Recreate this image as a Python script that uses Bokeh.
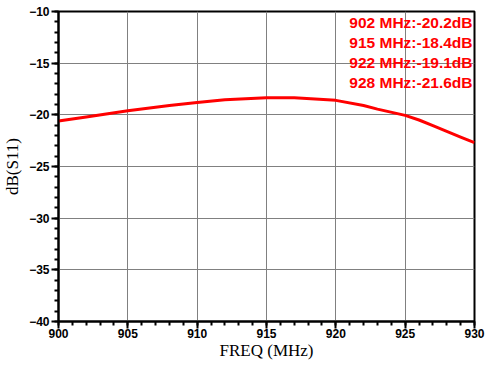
from bokeh.plotting import figure
from bokeh.embed import file_html
from bokeh.resources import INLINE
from bokeh.models import Label, SingleIntervalTicker, Range1d

freq = [900, 902, 905, 908, 910, 912, 915, 917, 920, 922, 923, 925, 926, 927, 928, 929, 930]
s11 = [-20.6, -20.2, -19.6, -19.1, -18.8, -18.55, -18.35, -18.35, -18.6, -19.1, -19.45,
       -20.05, -20.5, -21.05, -21.6, -22.15, -22.7]
marker_freq = [902, 915, 922, 928]
marker_val = [-20.2, -18.4, -19.1, -21.6]
x_tick_step = 5
y_tick_step = 5

p = figure(output_backend="svg", toolbar_location=None,
           width=487, height=371,
           x_range=Range1d(900, 930), y_range=Range1d(-40, -10),
           min_border_left=57, min_border_right=13, min_border_top=11, min_border_bottom=50)
p.background_fill_color = "white"
p.border_fill_color = "white"
p.outline_line_color = "black"
p.outline_line_width = 2

p.line(freq, s11, line_color="#ff0000", line_width=3)

for ax, step in ((p.xaxis[0], x_tick_step), (p.yaxis[0], y_tick_step)):
    ax.ticker = SingleIntervalTicker(interval=step, num_minor_ticks=5)
    ax.axis_line_color = "black"
    ax.axis_line_width = 2
    ax.major_tick_line_color = "black"
    ax.major_tick_line_width = 2
    ax.minor_tick_line_color = "black"
    ax.minor_tick_line_width = 2
    ax.major_tick_out = 7
    ax.major_tick_in = 0
    ax.minor_tick_out = 4
    ax.minor_tick_in = 0
    ax.major_label_text_font = "Liberation Sans"
    ax.major_label_text_font_style = "bold"
    ax.major_label_text_font_size = "12px"
    ax.major_label_text_color = "black"
    ax.axis_label_text_font = "Liberation Serif"
    ax.axis_label_text_font_style = "normal"
    ax.axis_label_text_font_size = "17px"
    ax.axis_label_text_color = "black"

p.xaxis.axis_label = "FREQ (MHz)"
p.yaxis.axis_label = "dB(S11)"
p.xaxis.major_label_standoff = 0
p.xaxis.axis_label_standoff = 0
p.yaxis.major_label_standoff = 2
p.yaxis.axis_label_standoff = 4

p.grid.grid_line_color = "#808080"
p.grid.grid_line_width = 1
p.xgrid.ticker = SingleIntervalTicker(interval=x_tick_step)
p.ygrid.ticker = SingleIntervalTicker(interval=y_tick_step)

for i, (f, v) in enumerate(zip(marker_freq, marker_val)):
    p.add_layout(Label(x=414, y=310 - 11 - 20 * i, x_units="screen", y_units="screen",
                       text=f"{f} MHz:{v}dB", text_align="right", text_baseline="middle",
                       text_font="Liberation Sans", text_font_style="bold",
                       text_font_size="15.5px", text_color="#ff0000"))

open("out.html", "w").write(file_html(p, INLINE))
